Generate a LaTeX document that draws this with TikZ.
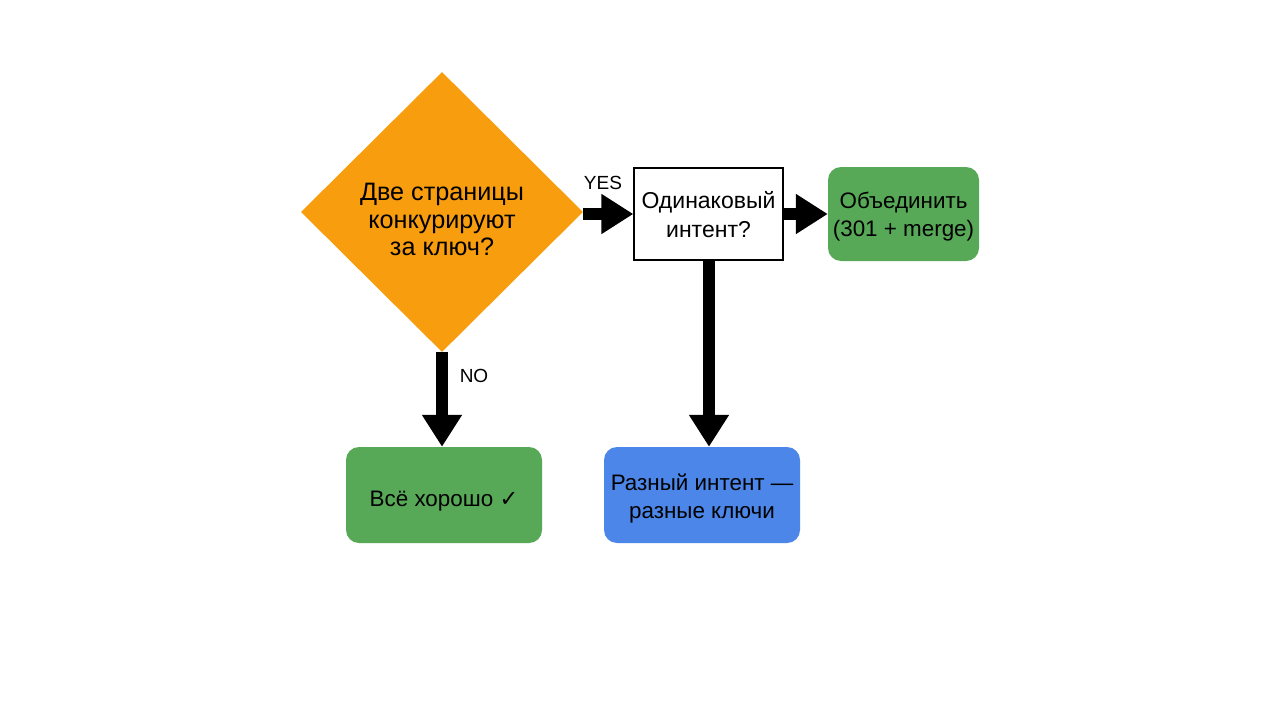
\documentclass[tikz,border=0pt]{standalone}
\usepackage{fontspec}
\setmainfont{Liberation Sans}
\newfontfamily\symfont{DejaVu Sans}
\usetikzlibrary{shapes.geometric,arrows.meta}
\definecolor{dorange}{HTML}{F89D0E}
\definecolor{dgreen}{HTML}{57A957}
\definecolor{dblue}{HTML}{4B86E8}
\newcommand\tlines[2]{\raisebox{-#1}[0pt][0pt]{\begin{tabular}{@{}c@{}}#2\end{tabular}}}
\tikzset{
  txt/.style={font=\fontsize{22.4}{28}\selectfont, text=black, inner sep=0pt},
  rbox/.style={txt, rounded corners=13pt, minimum width=196pt, minimum height=96pt},
  arr/.style={line width=12pt, -{Triangle[length=32pt,width=38pt]}},
  lbl/.style={font=\fontsize{19}{20}\selectfont, text=black, inner sep=0pt}
}
\begin{document}
\begin{tikzpicture}[x=1pt,y=-1pt]
\useasboundingbox[fill=white] (0,0) rectangle (1280,720);
\node[txt, font=\fontsize{25.2}{27.5}\selectfont, diamond, fill=dorange, minimum width=282pt, minimum height=280pt] (d) at (442,212)
  {\tlines{17pt}{Две страницы\\конкурируют\\за ключ?}};
\node[txt, font=\fontsize{23}{29}\selectfont, draw=black, line width=1.3pt, fill=white, minimum width=149pt, minimum height=92pt] (q) at (708.5,214)
  {\tlines{9pt}{Одинаковый\\интент?}};
\node[rbox, fill=dgreen, minimum width=151pt, minimum height=94pt] (m) at (903.5,214)
  {\tlines{8pt}{Объединить\\(301 + merge)}};
\node[rbox, fill=dgreen] (ok) at (444,495)
  {\tlines{11pt}{Всё хорошо {\symfont ✓}}};
\node[rbox, fill=dblue] (diff) at (702,495)
  {\tlines{9pt}{Разный интент —\\разные ключи}};
\node[lbl] (yes) at (603,182.5) {YES};
\node[lbl] (no) at (474,375.5) {NO};
\draw[arr] (d.east |- q.west) -- (q.west);
\draw[arr] (q.east) -- (m.west);
\draw[arr] (d.south) -- (d.south |- ok.north);
\draw[arr] (q.south -| 709,0) -- (diff.north -| 709,0);
\end{tikzpicture}
\end{document}
